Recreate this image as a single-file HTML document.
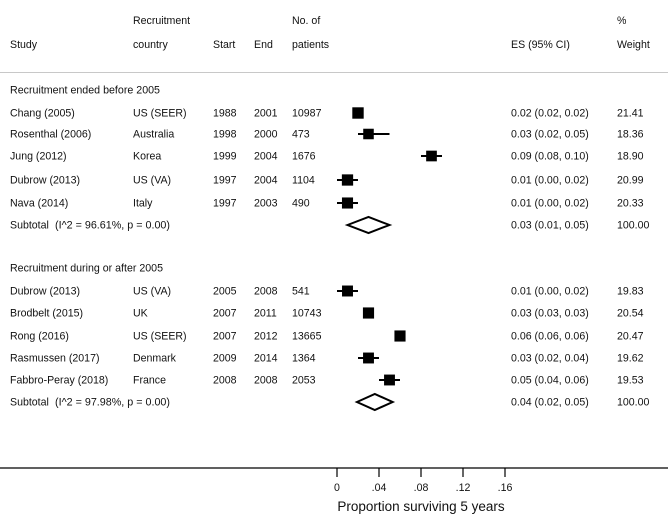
<!DOCTYPE html>
<html><head><meta charset="utf-8"><style>
body{margin:0;background:#fff}
svg{display:block;font-family:"Liberation Sans",Arial,sans-serif}
text{font-size:10.6px;fill:#111}
</style></head><body>
<svg id="c" width="668" height="514">
<g id="hdr">
<text x="10" y="48">Study</text>
<text x="133" y="24">Recruitment</text><text x="133" y="48">country</text>
<text x="213" y="48">Start</text><text x="254" y="48">End</text>
<text x="292" y="24">No. of</text><text x="292" y="48">patients</text>
<text x="511" y="48">ES (95% CI)</text>
<text x="617" y="24">%</text><text x="617" y="48">Weight</text>
</g>
<line x1="0" y1="72.5" x2="668" y2="72.5" stroke="#c8c8c8" stroke-width="1"/>
<line x1="0" y1="468" x2="668" y2="468" stroke="#000" stroke-width="1.3"/>
<text x="421" y="511" text-anchor="middle" style="font-size:13.5px">Proportion surviving 5 years</text>
<g id="plot"></g>
</svg>
<script>
const studies=["Chang (2005)","Rosenthal (2006)","Jung (2012)","Dubrow (2013)","Nava (2014)","Dubrow (2013)","Brodbelt (2015)","Rong (2016)","Rasmussen (2017)","Fabbro-Peray (2018)"];
const countries=["US (SEER)","Australia","Korea","US (VA)","Italy","US (VA)","UK","US (SEER)","Denmark","France"];
const starts=[1988,1998,1999,1997,1997,2005,2007,2007,2009,2008];
const ends=[2001,2000,2004,2004,2003,2008,2011,2012,2014,2008];
const patients=[10987,473,1676,1104,490,541,10743,13665,1364,2053];
const es=[0.02,0.03,0.09,0.01,0.01,0.01,0.03,0.06,0.03,0.05];
const lo=[0.02,0.02,0.08,0.00,0.00,0.00,0.03,0.06,0.02,0.04];
const hi=[0.02,0.05,0.10,0.02,0.02,0.02,0.03,0.06,0.04,0.06];
const weights=["21.41","18.36","18.90","20.99","20.33","19.83","20.54","20.47","19.62","19.53"];
const rowY=[113,134,156,180,203,291,313,336,358,380];
const subLabels=["(I^2 = 96.61%, p = 0.00)","(I^2 = 97.98%, p = 0.00)"];
const subEs=[0.03,0.036];const subLo=[0.01,0.019];const subHi=[0.05,0.053];
const subY=[225,402];
const groups=["Recruitment ended before 2005","Recruitment during or after 2005"];
const groupY=[90,268];
const ticks=[0,0.04,0.08,0.12,0.16];
const tickLabels=["0",".04",".08",".12",".16"];
const X=v=>337+v*1050;
const NS="http://www.w3.org/2000/svg";
const g=document.getElementById('plot');
function mk(t,a,txt){const e=document.createElementNS(NS,t);for(const k in a)e.setAttribute(k,a[k]);if(txt!==undefined)e.textContent=txt;g.appendChild(e);return e;}
const f=v=>v.toFixed(2);
groups.forEach((s,i)=>{const e=mk('text',{x:10,y:groupY[i]+3.5,textLength:i?153:150,lengthAdjust:'spacingAndGlyphs'},s);

});
studies.forEach((s,i)=>{const y=rowY[i]+3.5;
[[10,s],[133,countries[i]],[213,starts[i]],[254,ends[i]],[292,patients[i]],[511,f(es[i])+" ("+f(lo[i])+", "+f(hi[i])+")"],[617,weights[i]]].forEach(([x,t])=>{const e=mk('text',{x:x,y:y},t);

});
const l=mk('line',{x1:X(lo[i]),x2:X(hi[i]),y1:rowY[i],y2:rowY[i],stroke:'#000','stroke-width':2});


const sz=11*Math.sqrt(parseFloat(weights[i])/20);
const r=mk('rect',{x:X(es[i])-sz/2,y:rowY[i]-sz/2,width:sz,height:sz,fill:'#000'});

});
subLabels.forEach((s,i)=>{const y=subY[i];
const t0=mk('text',{x:10,y:y+3.5},"Subtotal");


const t=mk('text',{x:55,y:y+3.5,textLength:115,lengthAdjust:'spacingAndGlyphs'},s);


const t2=mk('text',{x:511,y:y+3.5},f(subEs[i])+" ("+f(subLo[i])+", "+f(subHi[i])+")");


const t3=mk('text',{x:617,y:y+3.5},"100.00");


const d=mk('polygon',{points:`${X(subLo[i])},${y} ${X(subEs[i])},${y-8} ${X(subHi[i])},${y} ${X(subEs[i])},${y+8}`,fill:'none',stroke:'#000','stroke-width':2});

});
ticks.forEach((v,i)=>{const l=mk('line',{x1:X(v),x2:X(v),y1:468,y2:477,stroke:'#000','stroke-width':1.2});


const t=mk('text',{x:X(v),y:491,'text-anchor':'middle'},tickLabels[i]);

});
</script>
</body></html>
